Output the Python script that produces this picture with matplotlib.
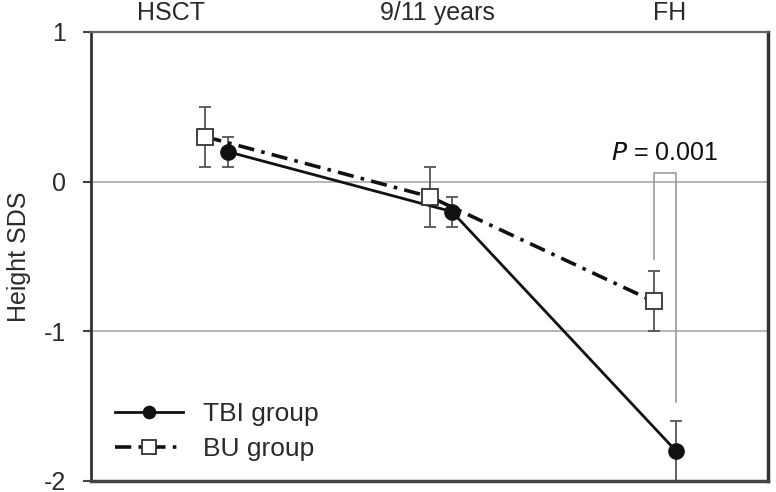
import numpy as np
import matplotlib
matplotlib.use('Agg')
import matplotlib.pyplot as plt

plt.rcParams['font.family'] = ['Liberation Sans', 'DejaVu Sans']

# data
timepoints = ['HSCT', '9/11 years', 'FH']
tbi_mean = [0.2, -0.2, -1.8]
tbi_err = [0.1, 0.1, 0.2]
bu_mean = [0.3, -0.1, -0.8]
bu_err = [0.2, 0.2, 0.2]
p_text = '$\\it{P}$ = 0.001'

x = np.arange(len(timepoints))
x_bu = x - 0.05
x_tbi = x + 0.05

txt_col = '#2a2a2a'
fs = 18
fig = plt.figure(figsize=(7.76, 4.92), dpi=100)
ax = fig.add_axes([0.1173, 0.0224, 0.8724, 0.9126])

# grid lines at 0 and -1
for yv in [0, -1]:
    ax.axhline(yv, color='#b0b0b0', lw=1.3, zorder=0)

ax.errorbar(x_tbi, tbi_mean, yerr=tbi_err, fmt='none', ecolor='#555555',
            elinewidth=1.3, capsize=4, capthick=1.3, zorder=2)
ax.errorbar(x_bu, bu_mean, yerr=bu_err, fmt='none', ecolor='#555555',
            elinewidth=1.3, capsize=4, capthick=1.3, zorder=2)

ax.plot(x_tbi, tbi_mean, color='#111111', lw=2, marker='o', markersize=11,
        markerfacecolor='#111111', label='TBI group', zorder=3)
ax.plot(x_bu, bu_mean, color='#111111', lw=2.6, dashes=[4.5, 2, 1, 2],
        marker='s', markersize=12, markerfacecolor='white',
        markeredgecolor='#333333', markeredgewidth=1.3,
        label='BU group', zorder=4)

# significance bracket at FH
br_top = 0.06
ax.plot([x_bu[2], x_bu[2], x_tbi[2], x_tbi[2]],
        [bu_mean[2] + bu_err[2] + 0.08, br_top, br_top,
         tbi_mean[2] + tbi_err[2] + 0.13],
        color='#999999', lw=1.2, zorder=1)
ax.text(x[2], 0.19, p_text, ha='center', va='center', fontsize=fs,
        color='#111111')

ax.set_xlim(-0.56, 2.46)
ax.set_ylim(-2, 1)
ax.set_yticks([1, 0, -1, -2])
ax.set_yticklabels(['1', '0', '-1', '-2'])
ax.tick_params(axis='y', length=6, width=1.5, pad=12, labelsize=fs,
               labelcolor=txt_col, color='#444444')

ax.xaxis.tick_top()
ax.set_xticks([-0.205, 0.987, 2.02])
ax.set_xticklabels(timepoints)
ax.tick_params(axis='x', length=0, pad=5, labelsize=fs, labelcolor=txt_col)

ax.set_ylabel('Height SDS', fontsize=fs, color=txt_col, labelpad=9)

ax.spines['left'].set_linewidth(2)
ax.spines['left'].set_color('#333333')
ax.spines['right'].set_linewidth(2.5)
ax.spines['right'].set_color('#333333')
ax.spines['bottom'].set_linewidth(2.5)
ax.spines['bottom'].set_color('#444444')
ax.spines['top'].set_linewidth(1.6)
ax.spines['top'].set_color('#666666')

leg = ax.legend(loc='lower left', bbox_to_anchor=(0.035, 0.045),
                frameon=False, fontsize=19, handlelength=2.6,
                handletextpad=0.75, labelspacing=0.4, borderpad=0,
                borderaxespad=0, markerscale=0.8)
for t in leg.get_texts():
    t.set_color(txt_col)

fig.savefig('out.png', dpi=100)
